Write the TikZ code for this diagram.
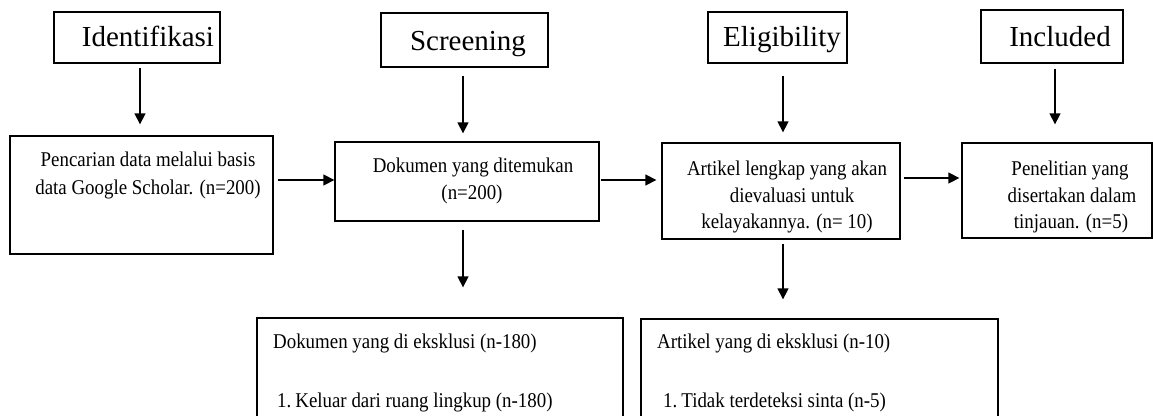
\documentclass[tikz,border=0pt]{standalone}
\usepackage{fontspec}
\setmainfont{Liberation Serif}
\newfontfamily\bodyfont[FakeStretch=0.9]{Liberation Serif}
\usetikzlibrary{arrows.meta}
\begin{document}
\begin{tikzpicture}[x=1pt,y=-1pt,
  box/.style={draw, line width=1.3pt, inner sep=0pt},
  hdr/.style={inner sep=0pt, anchor=base, font=\fontsize{29}{34}\selectfont},
  txt/.style={inner sep=0pt, anchor=base, font=\bodyfont\fontsize{21}{27}\selectfont},
  ltxt/.style={txt, anchor=base west},
  arr/.style={-{Triangle[length=11pt,width=11pt]}, line width=1.3pt}]
\useasboundingbox (0,0) rectangle (1153,415);
\clip (0,0) rectangle (1153,415);
% header boxes
\node[box, minimum width=166pt, minimum height=51pt] (h1) at (137,37.5) {};
\node[box, minimum width=167pt, minimum height=54pt] (h2) at (464.5,40) {};
\node[box, minimum width=139pt, minimum height=51pt] (h3) at (777.5,37.5) {};
\node[box, minimum width=142pt, minimum height=53pt] (h4) at (1052,36.5) {};
\node[hdr] (h1t) at (148,46) {Identifikasi};
\node[hdr] (h2t) at (468,50) {Screening};
\node[hdr] (h3t) at (782,46) {Eligibility};
\node[hdr] (h4t) at (1060,46) {Included};
% main boxes
\node[box, minimum width=263pt, minimum height=118pt] (b1) at (141.5,195) {};
\node[box, minimum width=264pt, minimum height=79pt] (b2) at (467,181.5) {};
\node[box, minimum width=238pt, minimum height=96pt] (b3) at (781,191) {};
\node[box, minimum width=190pt, minimum height=95pt] (b4) at (1057,190.5) {};
\node[txt] (b1a) at (148,166) {Pencarian data melalui basis};
\node[txt] (b1b) at (148,194) {data Google Scholar. (n=200)};
\node[txt] (b2a) at (473,172) {Dokumen yang ditemukan};
\node[txt] (b2b) at (472,199) {(n=200)};
\node[txt] (b3a) at (787,175) {Artikel lengkap yang akan};
\node[txt] (b3b) at (792,202) {dievaluasi untuk};
\node[txt] (b3c) at (787,228) {kelayakannya. (n= 10)};
\node[txt] (b4a) at (1070,175) {Penelitian yang};
\node[txt] (b4b) at (1072,202) {disertakan dalam};
\node[txt] (b4c) at (1071,228) {tinjauan. (n=5)};
% exclusion boxes
\node[box, minimum width=366pt, minimum height=112pt] (b5) at (440,374) {};
\node[box, minimum width=357pt, minimum height=112pt] (b6) at (819.5,375) {};
\node[ltxt] (b5a) at (273,348) {Dokumen yang di eksklusi (n-180)};
\node[ltxt] (b5b) at (277,407) {1.\hspace{4pt}Keluar dari ruang lingkup (n-180)};
\node[ltxt] (b6a) at (657,348) {Artikel yang di eksklusi (n-10)};
\node[ltxt] (b6b) at (663,407) {1.\hspace{4pt}Tidak terdeteksi sinta (n-5)};
% arrows headers to boxes
\draw[arr] ([xshift=3pt,yshift=-4pt]h1.south) -- ([xshift=-1.5pt,yshift=11pt]b1.north);
\draw[arr] ([xshift=-1.5pt,yshift=-8pt]h2.south) -- ([xshift=-4pt,yshift=8pt]b2.north);
\draw[arr] ([xshift=5.5pt,yshift=-12pt]h3.south) -- ([xshift=2pt,yshift=10pt]b3.north);
\draw[arr] ([xshift=3pt,yshift=-5pt]h4.south) -- ([xshift=-2pt,yshift=18pt]b4.north);
% horizontal arrows
\draw[arr] ([xshift=4pt,yshift=15pt]b1.east) -- ([yshift=1.5pt]b2.west);
\draw[arr] ([xshift=1pt,yshift=1.5pt]b2.east) -- ([xshift=-5pt,yshift=11pt]b3.west);
\draw[arr] ([xshift=3pt,yshift=13pt]b3.east) -- ([xshift=-2pt,yshift=12.5pt]b4.west);
% downward arrows
\draw[arr] ([xshift=-4pt,yshift=-8pt]b2.south) -- ([xshift=23pt,yshift=30pt]b5.north);
\draw[arr] ([xshift=2pt,yshift=-4pt]b3.south) -- ([xshift=-36.5pt,yshift=19pt]b6.north);
\end{tikzpicture}
\end{document}
